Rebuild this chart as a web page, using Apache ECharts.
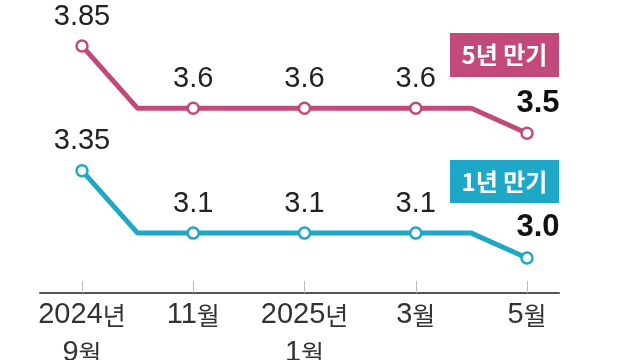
<!DOCTYPE html>
<html><head><meta charset="utf-8">
<script src="https://cdn.jsdelivr.net/npm/echarts@6/dist/echarts.min.js"></script>
<style>html,body{margin:0;padding:0;background:#fff}#c{width:640px;height:360px}</style>
</head><body><div id="c"></div>
<script>
const months = ['2024-09','2024-10','2024-11','2024-12','2025-01','2025-02','2025-03','2025-04','2025-05'];
const rate5y = [3.85,3.6,3.6,3.6,3.6,3.6,3.6,3.6,3.5];
const rate1y = [3.35,3.1,3.1,3.1,3.1,3.1,3.1,3.1,3.0];
const tickIdx = [0,2,4,6,8];
const tickLabels = ['{n|2024}{k|년}\n{n|9}{k|월}','{n|11}{k|월}','{n|2025}{k|년}\n{n|1}{k|월}','{n|3}{k|월}','{n|5}{k|월}'];
const seriesNames = ['5년 만기','1년 만기'];
const PINK = '#c24a7b', CYAN = '#1fa7c7';
const NUMFONT = '"Liberation Sans", Arial, sans-serif';
const KFONT = '"Noto Sans CJK KR", sans-serif';

function build(vals, color){
  return vals.map((v,i)=>{
    const marked = tickIdx.includes(i);
    const last = i === vals.length-1;
    const item = {value:[i,v]};
    if(!marked){ item.symbol='none'; item.label={show:false}; }
    else {
      item.label = {show:true, position:'top', distance:8,
        formatter: last ? v.toFixed(1) : String(v),
        fontFamily:NUMFONT, fontSize: last?31:29, fontWeight: last?'bold':'normal',
        color: last?'#111':'#222', offset: last?[11,0]:[0,0]};
    }
    return item;
  });
}

const chart = echarts.init(document.getElementById('c'));
chart.setOption({
  animation:false,
  grid:{left:40,right:81,top:0,bottom:67,outerBoundsMode:'none',containLabel:false},
  xAxis:{type:'value',min:-0.755,max:8.575,
    splitLine:{show:false},
    axisLine:{show:true,onZero:false,lineStyle:{color:'#555',width:2}},
    axisTick:{show:true,inside:true,length:12,customValues:tickIdx,lineStyle:{color:'#bbb',width:1}},
    axisLabel:{show:true,customValues:tickIdx,margin:3,hideOverlap:false,
      formatter:(val)=>tickLabels[tickIdx.indexOf(val)],
      rich:{n:{fontFamily:NUMFONT,fontSize:29,color:'#333',lineHeight:38},
            k:{fontFamily:KFONT,fontSize:25,color:'#333',lineHeight:38}}}
  },
  yAxis:{type:'value',min:2.86,max:4.034,show:false,splitLine:{show:false}},
  series:[
    {name:seriesNames[0],type:'line',data:build(rate5y,PINK),
     lineStyle:{color:PINK,width:5},itemStyle:{color:'#fff',borderColor:PINK,borderWidth:2.5},
     symbol:'circle',symbolSize:11,z:3},
    {name:seriesNames[1],type:'line',data:build(rate1y,CYAN),
     lineStyle:{color:CYAN,width:5},itemStyle:{color:'#fff',borderColor:CYAN,borderWidth:2.5},
     symbol:'circle',symbolSize:11,z:3}
  ],
  graphic:[
    {type:'group',left:450,top:33,children:[
      {type:'rect',shape:{x:0,y:0,width:109,height:44},style:{fill:PINK}},
      {type:'text',x:54.5,y:22,style:{text:seriesNames[0],fill:'#fff',font:'bold 24px "Noto Sans CJK KR"',align:'center',verticalAlign:'middle'}}
    ]},
    {type:'group',left:450,top:160,children:[
      {type:'rect',shape:{x:0,y:0,width:109,height:43},style:{fill:CYAN}},
      {type:'text',x:54.5,y:21.5,style:{text:seriesNames[1],fill:'#fff',font:'bold 24px "Noto Sans CJK KR"',align:'center',verticalAlign:'middle'}}
    ]}
  ]
});
</script></body></html>
